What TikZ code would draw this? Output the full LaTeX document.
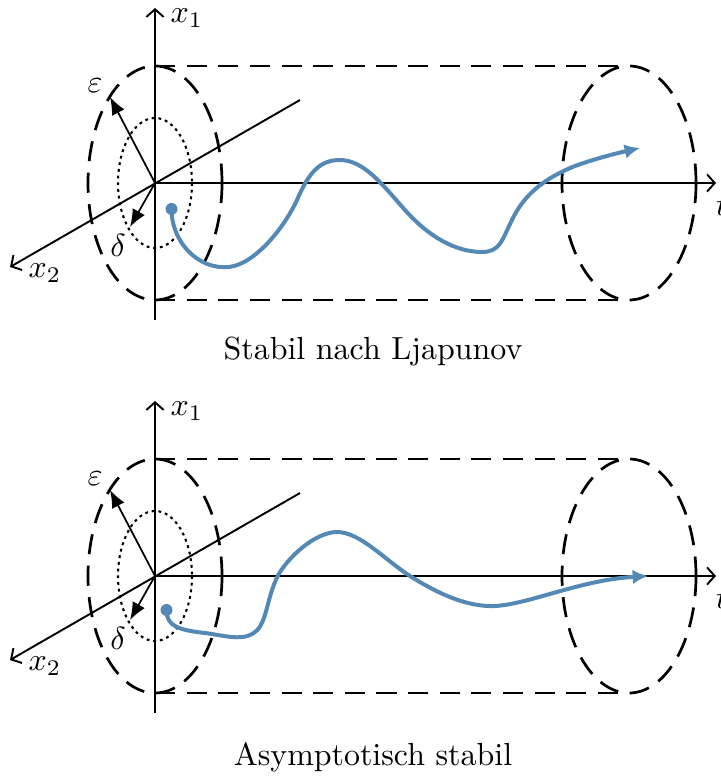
\documentclass[tikz,border=0pt]{standalone}
\usetikzlibrary{arrows.meta}
\definecolor{traj}{RGB}{84,136,181}
\begin{document}
\begin{tikzpicture}[x=0.313pt,y=-0.313pt,
  axisline/.style={line width=0.6pt,-{Straight Barb[length=2.4pt,width=5.4pt]}},
  tube/.style={line width=0.85pt,dash pattern=on 6.3pt off 3.6pt},
  innerell/.style={line width=0.65pt,dash pattern=on 0.9pt off 1.2pt},
  radarrow/.style={line width=0.55pt,-{Latex[length=5.5pt,width=4.4pt]}},
  trajline/.style={traj,line width=1.25pt,line cap=round,-{Latex[length=4.8pt,width=4.6pt]}},
  lab/.style={inner sep=0pt},
  captext/.style={inner sep=0pt,font=\normalsize}]
\useasboundingbox (0,0) rectangle (720,776);

% ---------- top panel ----------
\coordinate (O1) at (155,183);
\coordinate (Y1b) at (155,320);
\coordinate (Y1t) at (155,8);
\coordinate (T1) at (716,183);
\coordinate (Z1a) at (300,100);
\coordinate (Z1b) at (10,267);
\coordinate (E1) at (110,97);
\coordinate (D1) at (130,227);
\coordinate (TL1a) at (155,66);
\coordinate (TL1b) at (625,66);
\coordinate (BL1a) at (155,300);
\coordinate (BL1b) at (625,300);
\coordinate (R1) at (629,183);

\draw[tube] (O1) ellipse [x radius=67, y radius=117];
\draw[tube] (R1) ellipse [x radius=67, y radius=117];
\draw[tube] (TL1a) -- (TL1b);
\draw[tube] (BL1a) -- (BL1b);
\draw[innerell] (O1) ellipse [x radius=37, y radius=65];
\draw[axisline] (Y1b) -- (Y1t);
\draw[axisline] (O1) -- (T1);
\draw[axisline] (Z1a) -- (Z1b);
\draw[radarrow] (O1) -- (E1);
\draw[radarrow] (O1) -- (D1);
\node[lab] (lx1a) at (187,18) {$x_1$};
\node[lab] (lx2a) at (45,273) {$x_2$};
\node[lab] (lta) at (722,206) {$t$};
\node[lab] (lea) at (95,86) {$\varepsilon$};
\node[lab] (lda) at (118,245) {$\delta$};
\coordinate (S1) at (171.5,209);
\coordinate (P1) at (640,148);
\fill[traj] (S1) circle [radius=6];
\draw[trajline] (S1) .. controls (171.5,242) and (198,270) .. (229,267)
  .. controls (255,264) and (284,228) .. (297,200)
  .. controls (309,172) and (320,160) .. (340,160)
  .. controls (365,160) and (385,188) .. (405,210)
  .. controls (428,236) and (455,252) .. (482,252)
  .. controls (500,252) and (502,240) .. (511,222)
  .. controls (522,198) and (540,180) .. (575,166)
  .. controls (597,158) and (618,153) .. (P1);
\node[captext] (capa) at (373,352) {Stabil nach Ljapunov};

% ---------- bottom panel ----------
\coordinate (O2) at (155,576);
\coordinate (Y2b) at (155,713);
\coordinate (Y2t) at (155,401);
\coordinate (T2) at (716,576);
\coordinate (Z2a) at (300,493);
\coordinate (Z2b) at (10,660);
\coordinate (E2) at (110,490);
\coordinate (D2) at (130,620);
\coordinate (TL2a) at (155,459);
\coordinate (TL2b) at (625,459);
\coordinate (BL2a) at (155,693);
\coordinate (BL2b) at (625,693);
\coordinate (R2) at (629,576);

\draw[tube] (O2) ellipse [x radius=67, y radius=117];
\draw[tube] (R2) ellipse [x radius=67, y radius=117];
\draw[tube] (TL2a) -- (TL2b);
\draw[tube] (BL2a) -- (BL2b);
\draw[innerell] (O2) ellipse [x radius=37, y radius=65];
\draw[axisline] (Y2b) -- (Y2t);
\draw[axisline] (O2) -- (T2);
\draw[axisline] (Z2a) -- (Z2b);
\draw[radarrow] (O2) -- (E2);
\draw[radarrow] (O2) -- (D2);
\node[lab] (lx1b) at (187,411) {$x_1$};
\node[lab] (lx2b) at (45,666) {$x_2$};
\node[lab] (ltb) at (722,599) {$t$};
\node[lab] (leb) at (95,479) {$\varepsilon$};
\node[lab] (ldb) at (118,638) {$\delta$};
\coordinate (S2) at (166.5,610);
\coordinate (P2) at (648,576);
\fill[traj] (S2) circle [radius=6];
\draw[trajline] (S2) .. controls (166.5,626) and (178,630) .. (205,633)
  .. controls (228,636) and (247,643) .. (259,628)
  .. controls (268,615) and (268,592) .. (280,572)
  .. controls (293,552) and (318,532) .. (337,532)
  .. controls (360,532) and (385,560) .. (410,576)
  .. controls (440,595) and (468,607) .. (495,606)
  .. controls (530,604) and (580,580) .. (P2);
\node[captext] (capb) at (373,757) {Asymptotisch stabil};
\end{tikzpicture}
\end{document}
